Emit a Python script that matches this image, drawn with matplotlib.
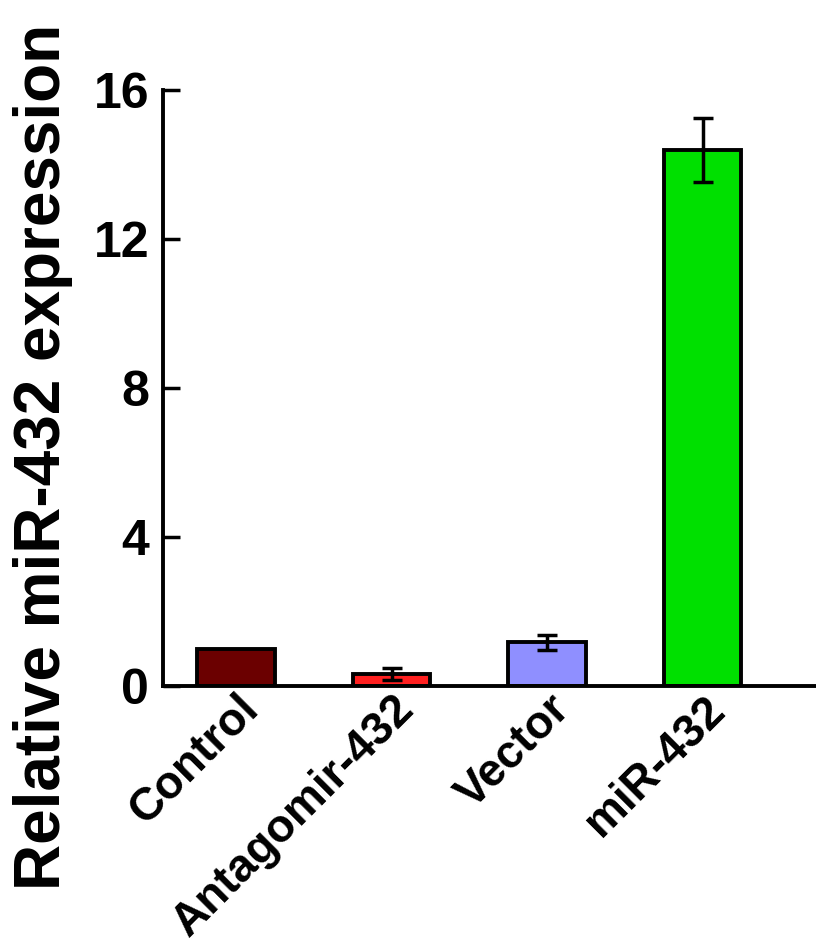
import matplotlib
matplotlib.use("Agg")
import matplotlib.pyplot as plt
import matplotlib.transforms as mtransforms

categories = ["Control", "Antagomir-432", "Vector", "miR-432"]
values = [1.0, 0.32, 1.17, 14.4]
errors = [0.0, 0.15, 0.2, 0.86]
colors = ["#6B0000", "#FF2020", "#8F8FFF", "#00E000"]
yticks = [0, 4, 8, 12, 16]

plt.rcParams['font.family'] = ['Liberation Sans', 'DejaVu Sans']
plt.rcParams['font.weight'] = 'bold'

fig = plt.figure(figsize=(8.16, 9.47), dpi=100)
ax = fig.add_axes([163/816, 1 - 686/947, 1 - 163/816, (686 - 90)/947])

x = list(range(len(categories)))
ax.bar(x, values, width=0.5, color=colors, edgecolor='black', linewidth=2.8, zorder=2)
for xi, v, e in zip(x, values, errors):
    if e > 0:
        ax.errorbar(xi, v, yerr=e, fmt='none', ecolor='black', elinewidth=2.5,
                    capsize=7.5, capthick=2.5, zorder=3)

ax.set_xlim(-0.47, 3.73)
ax.set_ylim(0, 16)
ax.set_yticks(yticks)
ax.set_yticklabels([str(t) for t in yticks], fontsize=36, fontweight='bold')
ax.set_xticks(x)
ax.set_xticklabels(categories, fontsize=33, fontweight='bold', rotation=45,
                   ha='right', va='center', rotation_mode='anchor')
ax.tick_params(axis='y', direction='in', length=12, width=2.5, pad=10)
ax.tick_params(axis='x', length=0, pad=12)
offset = mtransforms.ScaledTranslation(16/100, 0, fig.dpi_scale_trans)
for lbl in ax.get_xticklabels():
    lbl.set_transform(lbl.get_transform() + offset)
for s in ['top', 'right']:
    ax.spines[s].set_visible(False)
for s in ['left', 'bottom']:
    ax.spines[s].set_linewidth(2.8)

fig.text(43/816, 1 - 457/947, "Relative miR-432 expression", rotation=90,
         ha='center', va='center', fontsize=46, fontweight='bold')

fig.savefig("out.png", dpi=100)
